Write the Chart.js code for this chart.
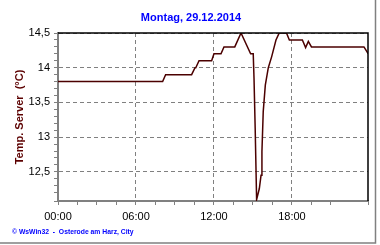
<!DOCTYPE html>
<html>
<head>
<meta charset="utf-8">
<script src="https://cdn.jsdelivr.net/npm/chart.js@4"></script>
<style>
  html, body { margin: 0; padding: 0; background: #ffffff; }
  #wrap { width: 380px; height: 245px; }
</style>
</head>
<body>
<div id="wrap"><canvas id="c" width="380" height="245"></canvas></div>
<script>
// ---- data ----
const titleText = 'Montag, 29.12.2014';
const yAxisTitle = 'Temp. Server  (°C)';
const footerText = '© WsWin32  -  Osterode am Harz, City';

// time of day in hours
const hours = [0, 8.05, 8.28, 10.28, 10.54, 10.6, 10.85, 11.82, 12.0, 12.54, 12.77, 13.6, 14.08, 14.82, 15.02,
               15.08, 15.17, 15.28, 15.49, 15.62, 15.69, 15.79, 15.95, 16.18, 16.44, 16.77, 17.02, 17.58,
               17.8, 18.8, 19.05, 19.26, 19.5, 23.54, 23.87];
// temperature in °C
const temps = [13.8, 13.8, 13.9, 13.9, 14.0, 14.0, 14.1, 14.1, 14.2, 14.2, 14.3, 14.3, 14.5, 14.2, 14.2,
               13.85, 13.13, 12.1, 12.26, 12.45, 12.79, 13.37, 13.75, 14.0, 14.16, 14.4, 14.5, 14.5,
               14.4, 14.4, 14.29, 14.38, 14.3, 14.3, 14.2];

const xTickValues = [0, 6, 12, 18];
const xTickLabels = ['00:00', '06:00', '12:00', '18:00'];
const yTickValues = [12.5, 13, 13.5, 14, 14.5];
const yTickLabels = ['12,5', '13', '13,5', '14', '14,5'];

const points = hours.map((h, i) => ({ x: h, y: temps[i] }));

function findIdx(arr, v) {
  for (let i = 0; i < arr.length; i++) if (Math.abs(arr[i] - v) < 1e-6) return i;
  return -1;
}

const GRID = '#808080';
const FONT = '"Liberation Sans", Arial, sans-serif';

const framePlugin = {
  id: 'frame',
  afterDraw(chart) {
    const { ctx, chartArea: a } = chart;
    ctx.save();
    ctx.strokeStyle = '#000000';
    ctx.lineWidth = 1.5;
    ctx.beginPath();
    ctx.moveTo(a.left, a.top);
    ctx.lineTo(a.right, a.top);
    ctx.lineTo(a.right, a.bottom);
    ctx.stroke();
    // outer frame (right + bottom)
    ctx.strokeStyle = '#808080';
    ctx.lineWidth = 1.5;
    ctx.beginPath();
    ctx.moveTo(375.5, 0);
    ctx.lineTo(375.5, 243);
    ctx.lineTo(0, 243);
    ctx.stroke();
    // footer
    ctx.fillStyle = '#0000ff';
    ctx.font = 'bold 6.8px ' + FONT;
    ctx.textBaseline = 'middle';
    ctx.textAlign = 'left';
    ctx.fillText(footerText, 12, 232);
    ctx.restore();
  }
};

new Chart(document.getElementById('c'), {
  type: 'line',
  data: {
    datasets: [{
      data: points,
      borderColor: '#4b0000',
      borderWidth: 1.5,
      pointRadius: 0,
      tension: 0,
      fill: false
    }]
  },
  options: {
    responsive: false,
    animation: false,
    devicePixelRatio: 1,
    layout: { padding: { left: 14, right: 12, top: 0, bottom: 0 } },
    plugins: {
      legend: { display: false },
      tooltip: { enabled: false },
      title: {
        display: true,
        text: titleText,
        color: '#0000ff',
        font: { family: FONT, size: 11, weight: 'bold' },
        padding: { top: 11, bottom: 8.8 }
      }
    },
    scales: {
      x: {
        type: 'linear',
        min: 0,
        max: 23.85,
        afterFit(s) { s.height = 44; },
        ticks: {
          stepSize: 1.5,
          autoSkip: false,
          maxRotation: 0,
          padding: 5,
          color: '#000000',
          font: { family: FONT, size: 11 },
          callback(v) { const i = findIdx(xTickValues, v); return i >= 0 ? xTickLabels[i] : ''; }
        },
        grid: {
          color: (c) => (c.tick && findIdx(xTickValues, c.tick.value) > 0) ? GRID : 'rgba(0,0,0,0)',
          tickColor: GRID,
          tickLength: 4,
          lineWidth: 1
        },
        border: { color: GRID, width: 2, dash: [4, 3] }
      },
      y: {
        type: 'linear',
        min: 12.08,
        max: 14.5,
        afterFit(s) { s.width = 44; },
        title: {
          display: true,
          text: yAxisTitle,
          color: '#5c0000',
          font: { family: FONT, size: 11, weight: 'bold', lineHeight: 1 },
          padding: { top: 0, bottom: 0 }
        },
        ticks: {
          stepSize: 0.1,
          autoSkip: false,
          padding: 4,
          color: '#000000',
          font: { family: FONT, size: 11 },
          callback(v) { const i = findIdx(yTickValues, v); return i >= 0 ? yTickLabels[i] : ''; }
        },
        grid: {
          color: (c) => (c.tick && findIdx(yTickValues, c.tick.value) >= 0) ? GRID : 'rgba(0,0,0,0)',
          tickColor: GRID,
          tickLength: 4,
          lineWidth: 1
        },
        border: { color: GRID, width: 2, dash: [4, 3] }
      }
    }
  },
  plugins: [framePlugin]
});
</script>
</body>
</html>
